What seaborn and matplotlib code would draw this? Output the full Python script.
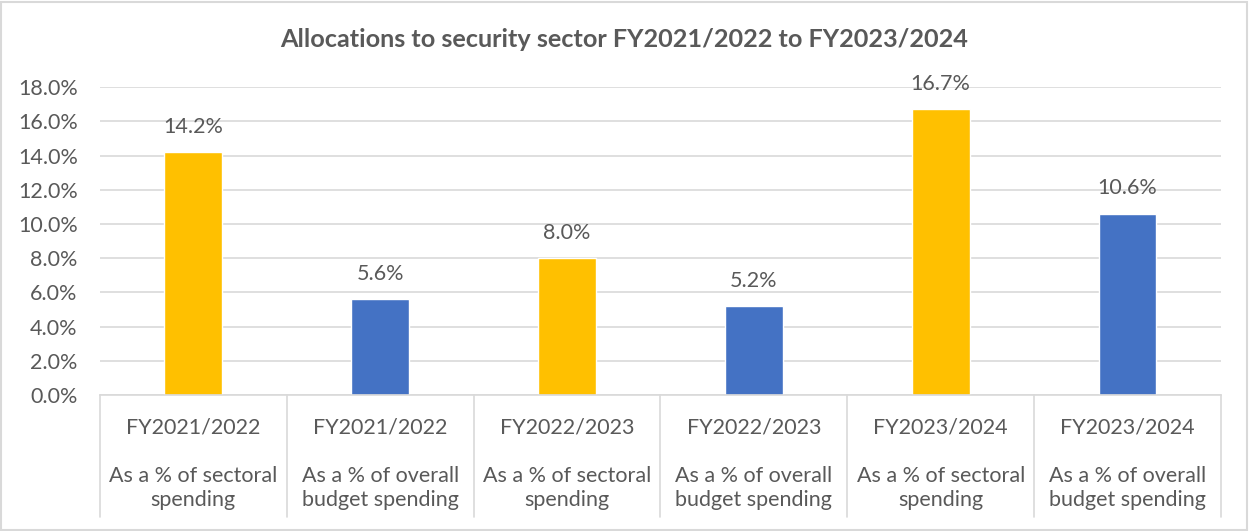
import matplotlib
matplotlib.use("Agg")
import matplotlib.pyplot as plt
import matplotlib.transforms as mtransforms
from matplotlib.patches import Rectangle
import seaborn as sns
import pandas as pd

years = ["FY2021/2022", "FY2021/2022", "FY2022/2023", "FY2022/2023", "FY2023/2024", "FY2023/2024"]
measures = ["As a % of sectoral\nspending", "As a % of overall\nbudget spending"] * 3
values = [14.2, 5.6, 8.0, 5.2, 16.7, 10.6]
bar_colors = ["#FFC000", "#4472C4"] * 3
y_ticks = [0, 2, 4, 6, 8, 10, 12, 14, 16, 18]

sns.set_theme(style="white")
plt.rcParams["font.family"] = ["Lato", "DejaVu Sans"]

text_color = "#595959"
grid_color = "#D9D9D9"
fs = 15.5

df = pd.DataFrame({
    "slot": [f"{y}|{m}" for y, m in zip(years, measures)],
    "value": values,
})

fig = plt.figure(figsize=(12.49, 5.31), dpi=100)
ax = fig.add_axes([0.080, 0.256, 0.8975, 0.580])

sns.barplot(data=df, x="slot", y="value", hue="slot", palette=bar_colors,
            width=0.31, legend=False, ax=ax, saturation=1)

ax.set_ylim(0, 18)
ax.set_xlim(-0.5, len(values) - 0.5)
ax.set_yticks(y_ticks)
ax.set_yticklabels([f"{t:.1f}%" for t in y_ticks], fontsize=fs, color=text_color)
ax.tick_params(axis="y", length=0, pad=16)
ax.set_xticks([])
ax.set_xlabel("")
ax.set_ylabel("")
ax.yaxis.grid(True, color=grid_color, linewidth=1.2)
ax.set_axisbelow(True)
for side in ["left", "right", "top"]:
    ax.spines[side].set_visible(False)
ax.spines["bottom"].set_color(grid_color)
ax.spines["bottom"].set_linewidth(1.2)

# value labels above each bar
for patch, v in zip(ax.patches, values):
    ax.annotate(f"{v:.1f}%", (patch.get_x() + patch.get_width() / 2, patch.get_height()),
                xytext=(0, 11), textcoords="offset points", ha="center", va="bottom",
                fontsize=fs, color=text_color)

# two-level category axis with separators
trans = mtransforms.blended_transform_factory(ax.transData, ax.transAxes)
for i in range(len(values) + 1):
    ax.plot([i - 0.5, i - 0.5], [0, -0.396], transform=trans, color=grid_color,
            linewidth=1.2, clip_on=False)
for i, (yr, m) in enumerate(zip(years, measures)):
    ax.text(i, -0.104, yr, transform=trans, ha="center", va="center",
            fontsize=fs, color=text_color)
    ax.text(i, -0.302, m, transform=trans, ha="center", va="center",
            fontsize=fs, color=text_color, linespacing=1.3)

fig.text(0.5, 0.925, "Allocations to security sector FY2021/2022 to FY2023/2024",
         ha="center", va="center", fontsize=18.2, fontweight="bold", color=text_color)

fig.patches.append(Rectangle((0.001, 0.002), 0.997, 0.995, transform=fig.transFigure,
                             fill=False, edgecolor=grid_color, linewidth=1.5))

fig.savefig("out.png", dpi=100, facecolor="white")
